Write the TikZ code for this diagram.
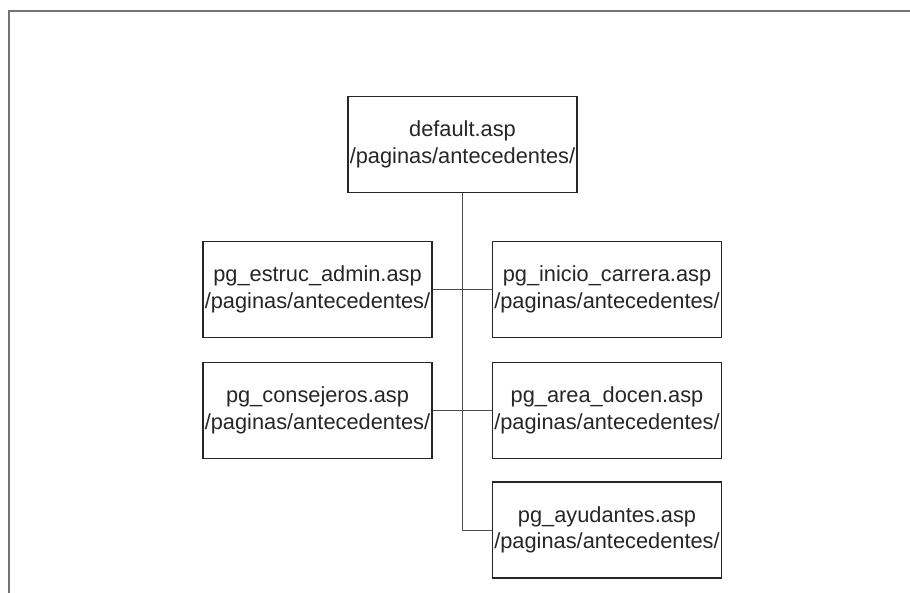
\documentclass[tikz,border=0pt]{standalone}
\usepackage{fontspec}
\setmainfont{Liberation Sans}
\usepackage{tikz}
\usetikzlibrary{calc,positioning}

\tikzset{
  pagina/.style={draw=black!85, line width=1.5pt, rectangle, minimum width=229pt,
    minimum height=96pt, inner sep=0pt, align=center, text=black!85,
    font=\fontsize{21.8}{26.5}\selectfont},
  enlace/.style={draw=black!70, line width=0.8pt}
}

\begin{document}
\begin{tikzpicture}[x=1pt,y=-1pt]
\useasboundingbox (0,0) rectangle (910,593);
% marco
\draw[color=black!55,line width=1.6pt] (9,593) -- (9,11) -- (910,11);
% paginas
\node[pagina] (Default) at (462.5,144.5) {default.asp\\/paginas/antecedentes/};
\node[pagina] (Estruc) at (317.5,289.5) {pg\_estruc\_admin.asp\\/paginas/antecedentes/};
\node[pagina] (Inicio) at (607,289.5) {pg\_inicio\_carrera.asp\\/paginas/antecedentes/};
\node[pagina] (Consej) at (317.5,410.5) {pg\_consejeros.asp\\/paginas/antecedentes/};
\node[pagina] (Area) at (607,410.5) {pg\_area\_docen.asp\\/paginas/antecedentes/};
\node[pagina] (Ayud) at (607,530) {pg\_ayudantes.asp\\/paginas/antecedentes/};
% enlaces
\coordinate (Codo) at (Default.south |- Ayud.west);
\draw[enlace] (Default.south) -- (Codo) -- (Ayud.west);
\draw[enlace] (Estruc.east) -- (Inicio.west);
\draw[enlace] (Consej.east) -- (Area.west);
\end{tikzpicture}
\end{document}
